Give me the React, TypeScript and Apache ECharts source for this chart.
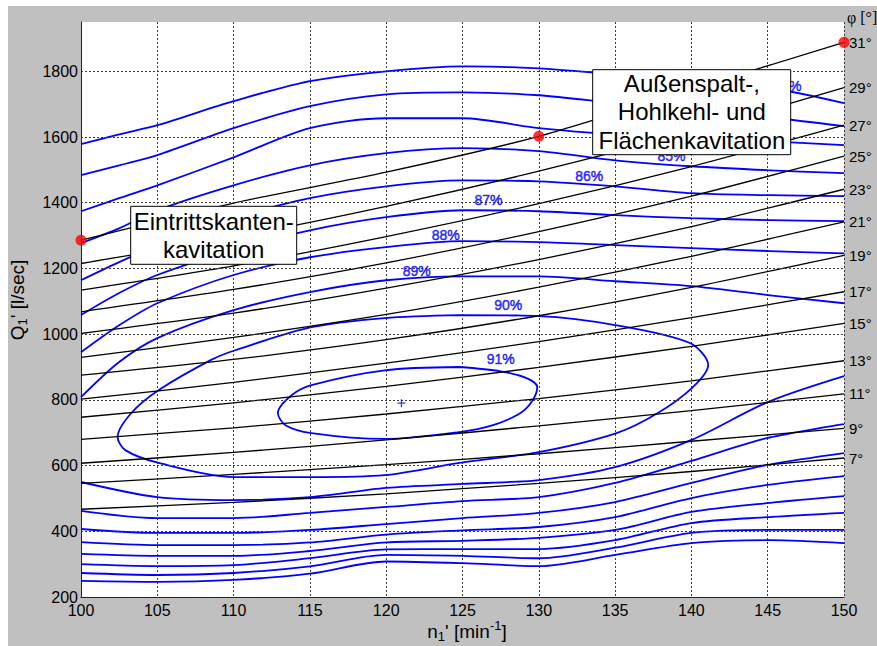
import { useEffect, useRef } from 'react';
import * as echarts from 'echarts';

const FONT = 'Arial, "Liberation Sans", Helvetica, sans-serif';

// guide-vane opening lines: Q1' (l/s) sampled at these n1' values
const phiN = [100, 110, 120, 130, 140, 150];
const phi31 = [1286, 1399, 1493, 1602, 1745, 1888];
const phi29 = [1215, 1295, 1389, 1496, 1616, 1750];
const phi27 = [1134, 1208, 1297, 1397, 1510, 1636];
const phi25 = [1068, 1136, 1217, 1312, 1420, 1542];
const phi23 = [1002, 1064, 1140, 1227, 1327, 1441];
const phi21 = [929, 990, 1060, 1143, 1237, 1342];
const phi19 = [875, 923, 983, 1056, 1142, 1240];
const phi17 = [802, 853, 912, 977, 1050, 1129];
const phi15 = [747, 791, 841, 899, 963, 1033];
const phi13 = [680, 715, 757, 804, 858, 919];
const phi11 = [607, 640, 678, 721, 767, 818];
const phi9 = [546, 573, 603, 636, 674, 713];
const phi7 = [467, 488, 514, 546, 582, 623];
const phiAngles = [31, 29, 27, 25, 23, 21, 19, 17, 15, 13, 11, 9, 7];
const phiLines = [phi31, phi29, phi27, phi25, phi23, phi21, phi19, phi17, phi15, phi13, phi11, phi9, phi7];

// efficiency contours, upper branches (Q1' in l/s at nUpper)
const nUpper = [100, 102.5, 105, 110, 115, 120, 125, 130, 135, 140, 145, 150];
const eta82Upper = [1578, 1608, 1636, 1709, 1770, 1800, 1815, 1809, 1791, 1773, 1751, 1703];
const eta83Upper = [1484, 1514, 1545, 1627, 1694, 1730, 1736, 1727, 1703, 1681, 1660, 1633];
const eta84Upper = [1374, 1414, 1453, 1538, 1627, 1657, 1657, 1627, 1608, 1596, 1587, 1575];
const eta85Upper = [1277, 1322, 1377, 1453, 1514, 1551, 1566, 1557, 1529, 1511, 1499, 1490];
const eta86Upper = [1164, 1219, 1271, 1353, 1414, 1450, 1468, 1465, 1450, 1429, 1423, 1420];
const eta87Upper = [1058, 1125, 1180, 1256, 1316, 1356, 1377, 1374, 1362, 1353, 1347, 1344];
const eta88Upper = [945, 1027, 1094, 1180, 1234, 1265, 1283, 1280, 1271, 1262, 1253, 1246];
const eta89Upper = [808, 915, 988, 1073, 1128, 1164, 1176, 1176, 1161, 1146, 1119, 1094];

// efficiency contours, lower branches (Q1' in l/s at nLower)
const nLower = [100, 105, 110, 115, 120, 125, 130, 135, 140, 145, 150];
const eta89Lower = [550, 504, 495, 504, 532, 544, 556, 595, 678, 793, 872];
const eta88Lower = [462, 440, 440, 456, 474, 492, 504, 547, 614, 684, 726];
const eta87Lower = [407, 395, 395, 404, 422, 440, 456, 489, 547, 602, 638];
const eta86Lower = [367, 358, 358, 366, 390, 403, 413, 443, 501, 541, 568];
const eta85Lower = [331, 325, 325, 340, 366, 371, 380, 404, 459, 486, 507];
const eta84Lower = [300, 294, 297, 318, 345, 346, 346, 373, 425, 443, 456];
const eta83Lower = [273, 267, 273, 293, 328, 325, 318, 350, 395, 404, 404];
const eta82Lower = [249, 246, 252, 271, 308, 303, 294, 328, 364, 373, 364];

// closed contours around the best-efficiency point: [n1', Q1']
const eta90Loop = [
  [124.8, 1058], [130.0, 1055], [135.1, 1027], [139.9, 973], [141.1, 906],
  [140.1, 839], [137.8, 760], [135.1, 699], [130.0, 641], [124.8, 608], [119.9, 571],
  [115.1, 565], [110.1, 565], [105.1, 608], [102.9, 647], [102.4, 687], [103.3, 760],
  [105.1, 830], [108.5, 921], [110.1, 951], [115.1, 1021], [119.9, 1049], [124.8, 1058],
];
const eta91Loop = [
  [124.8, 900], [127.5, 887], [129.2, 866], [129.9, 839], [129.6, 799], [128.8, 760],
  [127.0, 723], [124.8, 702], [119.9, 681], [115.1, 699], [113.4, 723], [112.9, 760],
  [113.8, 814], [115.1, 845], [119.9, 890], [124.8, 900],
];

// contour labels and their anchor points
const etaLabels = ['91%', '90%', '89%', '88%', '87%', '86%', '85%', '82%'];
const etaLabelN = [127.5, 128.0, 122.0, 123.9, 126.7, 133.3, 138.7, 146.3];
const etaLabelQ = [924, 1088, 1192, 1301, 1408, 1481, 1541, 1754];

// cavitation limit points on the 31° line, and the optimum
const cavitationN = [100, 130, 150];
const optimumPoint = [121, 790];

const BLUE = '#0000ff';

function zip(ns: number[], qs: number[]) {
  return ns.map((n, i) => [n, qs[i]]);
}

function contour(data: number[][]) {
  return {
    type: 'line',
    data,
    symbol: 'none',
    showSymbol: false,
    smooth: 0.3,
    silent: true,
    z: 3,
    lineStyle: { color: BLUE, width: 1.8 },
  };
}

export default function App() {
  const ref = useRef<HTMLDivElement>(null);

  useEffect(() => {
    const el = ref.current;
    if (!el) return;
    const chart = echarts.init(el, undefined, { renderer: 'svg' });

    const upper = [eta82Upper, eta83Upper, eta84Upper, eta85Upper, eta86Upper, eta87Upper, eta88Upper, eta89Upper];
    const lower = [eta89Lower, eta88Lower, eta87Lower, eta86Lower, eta85Lower, eta84Lower, eta83Lower, eta82Lower];

    const qGrid: number[] = [];
    for (let q = 400; q <= 1800; q += 200) qGrid.push(q);

    const series: any[] = [];

    // horizontal dotted grid
    series.push({
      type: 'line',
      data: [],
      silent: true,
      z: 1,
      markLine: {
        silent: true,
        symbol: 'none',
        label: { show: false },
        lineStyle: { color: '#3a3a3a', type: [2, 2], width: 1 },
        data: qGrid.map((q) => ({ yAxis: q })),
      },
    });

    upper.forEach((qs) => series.push(contour(zip(nUpper, qs))));
    lower.forEach((qs) => series.push(contour(zip(nLower, qs))));
    series.push(contour(eta90Loop));
    series.push(contour(eta91Loop));

    phiLines.forEach((qs, i) => {
      series.push({
        type: 'line',
        data: zip(phiN, qs),
        symbol: 'none',
        showSymbol: false,
        smooth: 0.25,
        silent: true,
        z: 4,
        lineStyle: { color: '#000', width: 1.3 },
        endLabel: {
          show: true,
          formatter: `${phiAngles[i]}°`,
          distance: 5,
          color: '#000',
          fontSize: 15,
          fontFamily: FONT,
        },
      });
    });

    // contour value labels
    series.push({
      type: 'scatter',
      data: etaLabels.map((t, i) => [etaLabelN[i], etaLabelQ[i], t]),
      symbol: 'circle',
      symbolSize: 1,
      silent: true,
      z: 6,
      itemStyle: { color: 'rgba(255,255,255,0)' },
      label: {
        show: true,
        position: 'inside',
        formatter: (p: any) => p.data[2],
        color: BLUE,
        textBorderColor: BLUE,
        textBorderWidth: 0.5,
        fontSize: 14,
        fontFamily: FONT,
      },
    });

    // cavitation points
    series.push({
      type: 'scatter',
      data: cavitationN.map((n) => [n, phi31[phiN.indexOf(n)]]),
      symbol: 'circle',
      symbolSize: 11,
      silent: true,
      z: 7,
      itemStyle: { color: '#ff0000' },
    });

    // best-efficiency point
    series.push({
      type: 'scatter',
      data: [optimumPoint],
      symbol: 'path://M5,0L5,10M0,5L10,5',
      symbolSize: 8,
      silent: true,
      z: 7,
      itemStyle: { color: 'rgba(0,0,0,0)', borderColor: BLUE, borderWidth: 1.3 },
    });

    const option: any = {
      animation: false,
      backgroundColor: '#c0c0c0',
      textStyle: { fontFamily: FONT },
      grid: {
        left: 73,
        top: 16,
        width: 763,
        height: 575,
        show: true,
        backgroundColor: '#ffffff',
        borderWidth: 0,
      },
      xAxis: {
        type: 'value',
        min: 100,
        max: 150,
        interval: 5,
        axisLine: { show: true, onZero: false, lineStyle: { color: '#222', width: 1 } },
        axisTick: { show: false },
        axisLabel: { margin: 5, fontSize: 16, color: '#000', fontFamily: FONT },
        splitLine: {
          show: true,
          showMinLine: false,
          showMaxLine: true,
          lineStyle: { color: '#3a3a3a', type: [2, 2], width: 1 },
        },
      },
      yAxis: {
        type: 'value',
        min: 200,
        max: 1950,
        interval: 200,
        axisLine: { show: true, onZero: false, lineStyle: { color: '#222', width: 1 } },
        axisTick: { show: false },
        axisLabel: {
          margin: 3,
          fontSize: 16,
          color: '#000',
          fontFamily: FONT,
          showMaxLabel: false,
          formatter: (v: number) => String(v),
        },
        splitLine: { show: false },
      },
      graphic: [
        // y-axis title
        {
          type: 'text',
          x: 9,
          y: 294,
          rotation: Math.PI / 2,
          z: 100,
          style: {
            text: "{a|Q}{b|1}{a|' [l/sec]}",
            align: 'center',
            verticalAlign: 'middle',
            rich: {
              a: { fontSize: 19, fontFamily: FONT, fill: '#000', lineHeight: 24 },
              b: { fontSize: 13, fontFamily: FONT, fill: '#000', verticalAlign: 'bottom', lineHeight: 15 },
            },
          },
        },
        // x-axis title
        {
          type: 'text',
          x: 459,
          y: 625,
          z: 100,
          style: {
            text: "{a|n}{b|1}{a|' [min}{c|-1}{a|]}",
            align: 'center',
            verticalAlign: 'middle',
            rich: {
              a: { fontSize: 19, fontFamily: FONT, fill: '#000', lineHeight: 24 },
              b: { fontSize: 13, fontFamily: FONT, fill: '#000', verticalAlign: 'bottom', lineHeight: 15 },
              c: { fontSize: 13, fontFamily: FONT, fill: '#000', verticalAlign: 'top', lineHeight: 15 },
            },
          },
        },
        // φ axis caption
        {
          type: 'text',
          x: 839,
          y: 11,
          z: 100,
          style: {
            text: 'φ [°]',
            fontSize: 16,
            fontFamily: '"Liberation Serif", "Times New Roman", serif',
            fill: '#000',
            align: 'left',
            verticalAlign: 'middle',
          },
        },
        // leading-edge cavitation box
        {
          type: 'rect',
          z: 100,
          shape: { x: 122.7, y: 200.3, width: 166, height: 58 },
          style: { fill: '#ffffff', stroke: '#000', lineWidth: 1 },
        },
        {
          type: 'text',
          x: 205.7,
          y: 229.8,
          z: 101,
          style: {
            text: 'Eintrittskanten-\nkavitation',
            fontSize: 24,
            fontFamily: FONT,
            fill: '#000',
            align: 'center',
            verticalAlign: 'middle',
            lineHeight: 28,
          },
        },
        // tip-gap / fillet / surface cavitation box
        {
          type: 'rect',
          z: 100,
          shape: { x: 584.7, y: 63.7, width: 198, height: 85 },
          style: { fill: '#ffffff', stroke: '#000', lineWidth: 1 },
        },
        {
          type: 'text',
          x: 683.9,
          y: 105.8,
          z: 101,
          style: {
            text: 'Außenspalt-,\nHohlkehl- und\nFlächenkavitation',
            fontSize: 24,
            fontFamily: FONT,
            fill: '#000',
            align: 'center',
            verticalAlign: 'middle',
            lineHeight: 28.5,
          },
        },
      ],
      series,
    };

    chart.setOption(option);
    return () => chart.dispose();
  }, []);

  return (
    <div
      ref={ref}
      style={{ position: 'fixed', left: 8, top: 6, width: 869, height: 640 }}
    />
  );
}
